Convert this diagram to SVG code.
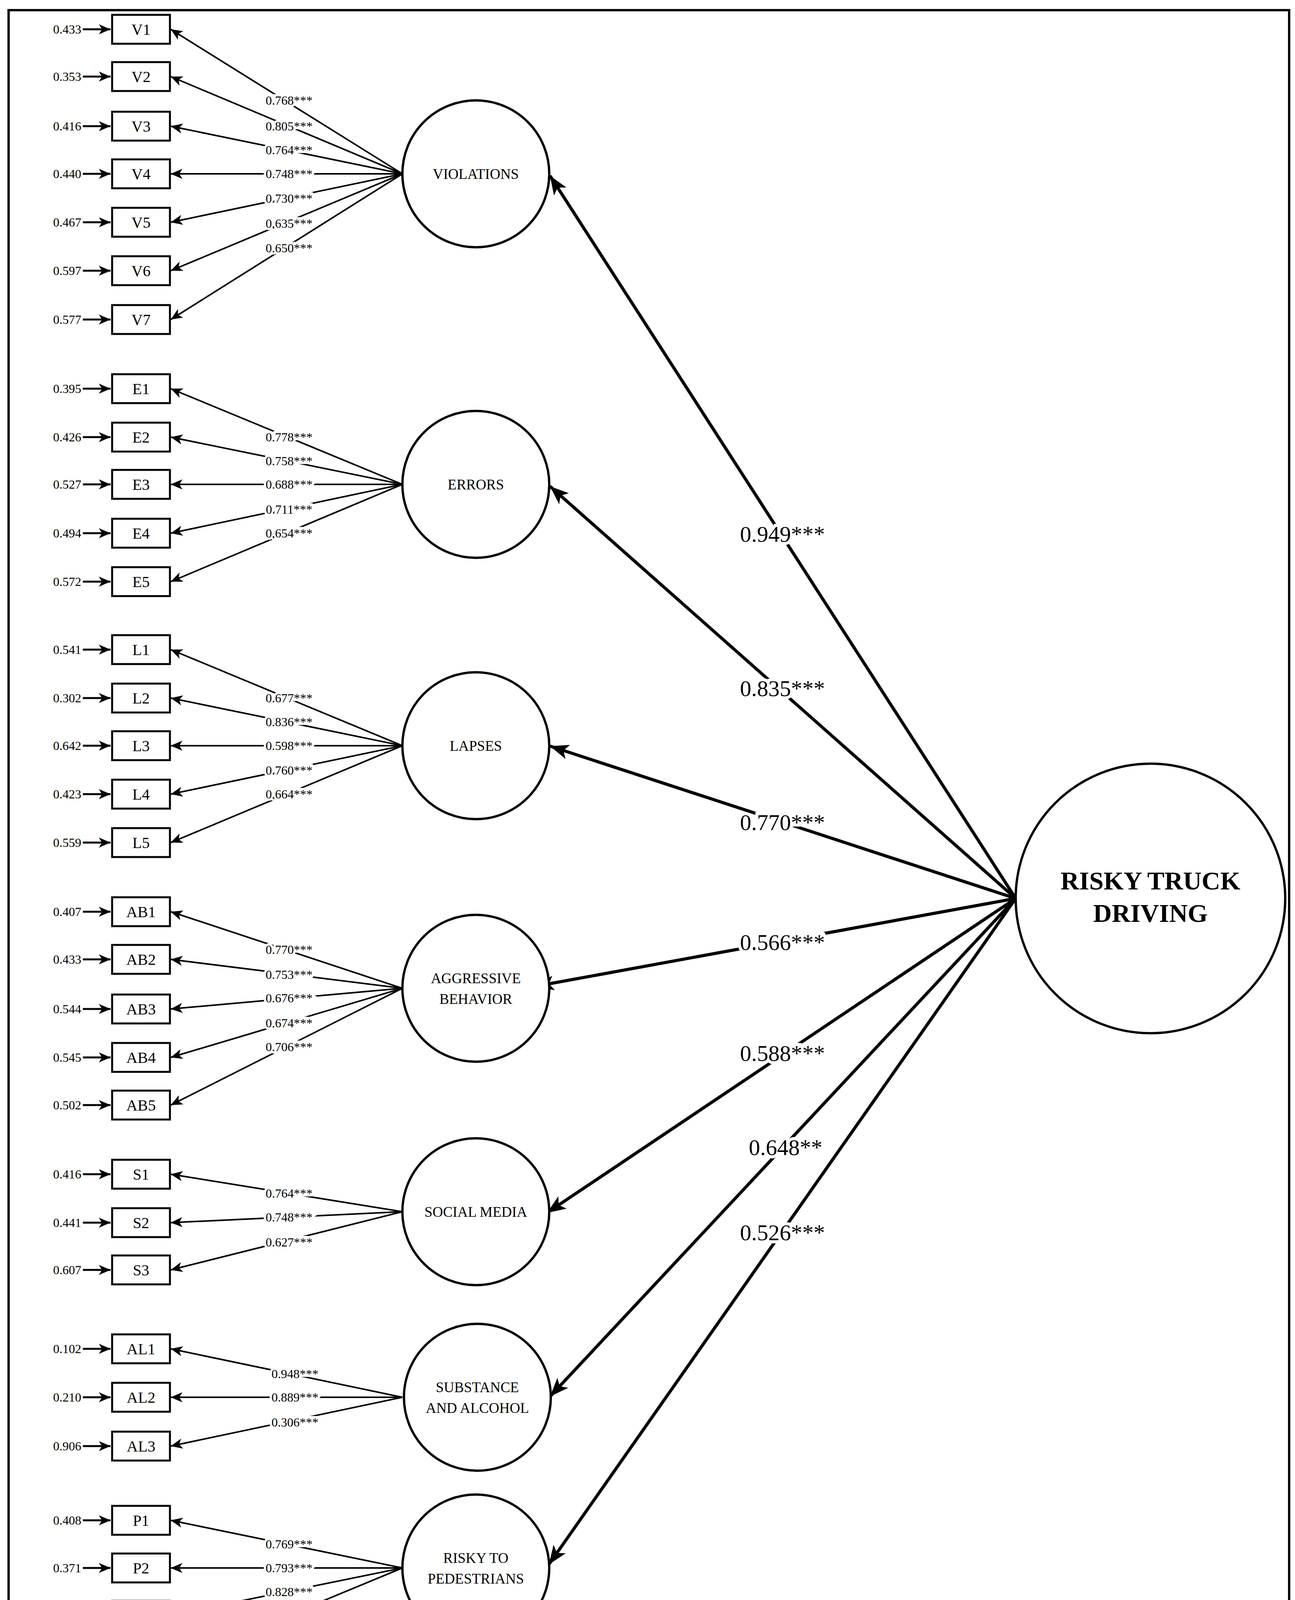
<svg xmlns="http://www.w3.org/2000/svg" width="3315" height="4339" viewBox="0 0 3315 4339">
<defs>
<marker id="a" markerUnits="userSpaceOnUse" markerWidth="32" markerHeight="26" refX="30" refY="13" orient="auto"><path d="M0,0 L30,13 L0,26 L8,13 z" fill="#000"/></marker>
<marker id="b" markerUnits="userSpaceOnUse" markerWidth="50" markerHeight="38" refX="48" refY="19" orient="auto"><path d="M0,0 L48,19 L0,38 L12,19 z" fill="#000"/></marker>
</defs>
<style>
text{font-family:"Liberation Serif","Times New Roman",serif;fill:#000}
.box{fill:#fff;stroke:#000;stroke-width:5}
.lat{fill:#fff;stroke:#000;stroke-width:6}
.ind{stroke:#000;stroke-width:4;marker-end:url(#a)}
.err{stroke:#000;stroke-width:5;marker-end:url(#a)}
.str{stroke:#000;stroke-width:8;marker-end:url(#b)}
.bl{font-size:40px;text-anchor:middle}
.el{font-size:32px;text-anchor:end}
.ll{font-size:32px;text-anchor:middle;stroke:#fff;stroke-width:12;paint-order:stroke}
.sl{font-size:58px;text-anchor:middle;stroke:#fff;stroke-width:16;paint-order:stroke}
.lt{font-size:37px;text-anchor:middle}
.rt{font-size:66px;font-weight:bold;text-anchor:middle}
</style>
<rect x="22" y="26" width="3278" height="4291" fill="#fff" stroke="#000" stroke-width="6"/>
<g id="connectors" fill="none">
<line class="err" x1="212" y1="75" x2="283" y2="75"/><line class="err" x1="212" y1="196" x2="283" y2="196"/><line class="err" x1="212" y1="323" x2="283" y2="323"/><line class="err" x1="212" y1="445" x2="283" y2="445"/><line class="err" x1="212" y1="569" x2="283" y2="569"/><line class="err" x1="212" y1="693" x2="283" y2="693"/><line class="err" x1="212" y1="818" x2="283" y2="818"/>
<line class="err" x1="212" y1="995" x2="283" y2="995"/><line class="err" x1="212" y1="1119" x2="283" y2="1119"/><line class="err" x1="212" y1="1240" x2="283" y2="1240"/><line class="err" x1="212" y1="1365" x2="283" y2="1365"/><line class="err" x1="212" y1="1489" x2="283" y2="1489"/>
<line class="err" x1="212" y1="1663" x2="283" y2="1663"/><line class="err" x1="212" y1="1787" x2="283" y2="1787"/><line class="err" x1="212" y1="1909" x2="283" y2="1909"/><line class="err" x1="212" y1="2033" x2="283" y2="2033"/><line class="err" x1="212" y1="2157" x2="283" y2="2157"/>
<line class="err" x1="212" y1="2334" x2="283" y2="2334"/><line class="err" x1="212" y1="2456" x2="283" y2="2456"/><line class="err" x1="212" y1="2583" x2="283" y2="2583"/><line class="err" x1="212" y1="2707" x2="283" y2="2707"/><line class="err" x1="212" y1="2829" x2="283" y2="2829"/>
<line class="err" x1="212" y1="3006" x2="283" y2="3006"/><line class="err" x1="212" y1="3130" x2="283" y2="3130"/><line class="err" x1="212" y1="3251" x2="283" y2="3251"/>
<line class="err" x1="212" y1="3453" x2="283" y2="3453"/><line class="err" x1="212" y1="3577" x2="283" y2="3577"/><line class="err" x1="212" y1="3702" x2="283" y2="3702"/>
<line class="err" x1="212" y1="3892" x2="283" y2="3892"/><line class="err" x1="212" y1="4014" x2="283" y2="4014"/><line class="err" x1="212" y1="4135" x2="283" y2="4135"/><line class="err" x1="212" y1="4260" x2="283" y2="4260"/>
<line class="ind" x1="1030" y1="445" x2="437" y2="75"/><line class="ind" x1="1030" y1="445" x2="437" y2="196"/><line class="ind" x1="1030" y1="445" x2="437" y2="323"/><line class="ind" x1="1030" y1="445" x2="437" y2="445"/><line class="ind" x1="1030" y1="445" x2="437" y2="569"/><line class="ind" x1="1030" y1="445" x2="437" y2="693"/><line class="ind" x1="1030" y1="445" x2="437" y2="818"/>
<line class="ind" x1="1030" y1="1240" x2="437" y2="995"/><line class="ind" x1="1030" y1="1240" x2="437" y2="1119"/><line class="ind" x1="1030" y1="1240" x2="437" y2="1240"/><line class="ind" x1="1030" y1="1240" x2="437" y2="1365"/><line class="ind" x1="1030" y1="1240" x2="437" y2="1489"/>
<line class="ind" x1="1030" y1="1909" x2="437" y2="1663"/><line class="ind" x1="1030" y1="1909" x2="437" y2="1787"/><line class="ind" x1="1030" y1="1909" x2="437" y2="1909"/><line class="ind" x1="1030" y1="1909" x2="437" y2="2033"/><line class="ind" x1="1030" y1="1909" x2="437" y2="2157"/>
<line class="ind" x1="1030" y1="2530" x2="437" y2="2334"/><line class="ind" x1="1030" y1="2530" x2="437" y2="2456"/><line class="ind" x1="1030" y1="2530" x2="437" y2="2583"/><line class="ind" x1="1030" y1="2530" x2="437" y2="2707"/><line class="ind" x1="1030" y1="2530" x2="437" y2="2829"/>
<line class="ind" x1="1030" y1="3102" x2="437" y2="3006"/><line class="ind" x1="1030" y1="3102" x2="437" y2="3130"/><line class="ind" x1="1030" y1="3102" x2="437" y2="3251"/>
<line class="ind" x1="1030" y1="3577" x2="437" y2="3453"/><line class="ind" x1="1030" y1="3577" x2="437" y2="3577"/><line class="ind" x1="1030" y1="3577" x2="437" y2="3702"/>
<line class="ind" x1="1030" y1="4014" x2="437" y2="3892"/><line class="ind" x1="1030" y1="4014" x2="437" y2="4014"/><line class="ind" x1="1030" y1="4014" x2="437" y2="4135"/><line class="ind" x1="1030" y1="4014" x2="437" y2="4260"/>
<line class="str" x1="2600" y1="2300" x2="1408" y2="450"/>
<line class="str" x1="2600" y1="2300" x2="1408" y2="1245"/>
<line class="str" x1="2600" y1="2300" x2="1408" y2="1910"/>
<line class="str" x1="2600" y1="2300" x2="1370" y2="2525"/>
<line class="str" x1="2600" y1="2300" x2="1400" y2="3105"/>
<line class="str" x1="2600" y1="2300" x2="1408" y2="3575"/>
<line class="str" x1="2600" y1="2300" x2="1405" y2="4005"/>
</g>
<g id="labels">
<text class="ll" x="740" y="268">0.768***</text><text class="ll" x="740" y="334">0.805***</text><text class="ll" x="740" y="395">0.764***</text><text class="ll" x="740" y="456">0.748***</text><text class="ll" x="740" y="519">0.730***</text><text class="ll" x="740" y="583">0.635***</text><text class="ll" x="740" y="646">0.650***</text>
<text class="ll" x="740" y="1130">0.778***</text><text class="ll" x="740" y="1191">0.758***</text><text class="ll" x="740" y="1251">0.688***</text><text class="ll" x="740" y="1315">0.711***</text><text class="ll" x="740" y="1376">0.654***</text>
<text class="ll" x="740" y="1798">0.677***</text><text class="ll" x="740" y="1859">0.836***</text><text class="ll" x="740" y="1920">0.598***</text><text class="ll" x="740" y="1983">0.760***</text><text class="ll" x="740" y="2044">0.664***</text>
<text class="ll" x="740" y="2442">0.770***</text><text class="ll" x="740" y="2506">0.753***</text><text class="ll" x="740" y="2566">0.676***</text><text class="ll" x="740" y="2630">0.674***</text><text class="ll" x="740" y="2691">0.706***</text>
<text class="ll" x="740" y="3066">0.764***</text><text class="ll" x="740" y="3127">0.748***</text><text class="ll" x="740" y="3191">0.627***</text>
<text class="ll" x="755" y="3528">0.948***</text><text class="ll" x="755" y="3588">0.889***</text><text class="ll" x="755" y="3652">0.306***</text>
<text class="ll" x="740" y="3964">0.769***</text><text class="ll" x="740" y="4025">0.793***</text><text class="ll" x="740" y="4086">0.828***</text><text class="ll" x="740" y="4146">0.803***</text>
<text class="sl" x="2003" y="1387">0.949***</text><text class="sl" x="2003" y="1782">0.835***</text><text class="sl" x="2003" y="2125">0.770***</text><text class="sl" x="2003" y="2432">0.566***</text><text class="sl" x="2003" y="2716">0.588***</text><text class="sl" x="2011" y="2957">0.648**</text><text class="sl" x="2003" y="3175">0.526***</text>
<text class="el" x="208" y="86">0.433</text><text class="el" x="208" y="207">0.353</text><text class="el" x="208" y="334">0.416</text><text class="el" x="208" y="456">0.440</text><text class="el" x="208" y="580">0.467</text><text class="el" x="208" y="704">0.597</text><text class="el" x="208" y="829">0.577</text>
<text class="el" x="208" y="1006">0.395</text><text class="el" x="208" y="1130">0.426</text><text class="el" x="208" y="1251">0.527</text><text class="el" x="208" y="1376">0.494</text><text class="el" x="208" y="1500">0.572</text>
<text class="el" x="208" y="1674">0.541</text><text class="el" x="208" y="1798">0.302</text><text class="el" x="208" y="1920">0.642</text><text class="el" x="208" y="2044">0.423</text><text class="el" x="208" y="2168">0.559</text>
<text class="el" x="208" y="2345">0.407</text><text class="el" x="208" y="2467">0.433</text><text class="el" x="208" y="2594">0.544</text><text class="el" x="208" y="2718">0.545</text><text class="el" x="208" y="2840">0.502</text>
<text class="el" x="208" y="3017">0.416</text><text class="el" x="208" y="3141">0.441</text><text class="el" x="208" y="3262">0.607</text>
<text class="el" x="208" y="3464">0.102</text><text class="el" x="208" y="3588">0.210</text><text class="el" x="208" y="3713">0.906</text>
<text class="el" x="208" y="3903">0.408</text><text class="el" x="208" y="4025">0.371</text><text class="el" x="208" y="4146">0.315</text><text class="el" x="208" y="4271">0.355</text>
</g>
<g id="boxes">
<g id="V1"><rect class="box" x="287" y="38" width="148" height="74"/><text class="bl" x="361" y="89">V1</text></g>
<g id="V2"><rect class="box" x="287" y="159" width="148" height="74"/><text class="bl" x="361" y="210">V2</text></g>
<g id="V3"><rect class="box" x="287" y="286" width="148" height="74"/><text class="bl" x="361" y="337">V3</text></g>
<g id="V4"><rect class="box" x="287" y="408" width="148" height="74"/><text class="bl" x="361" y="459">V4</text></g>
<g id="V5"><rect class="box" x="287" y="532" width="148" height="74"/><text class="bl" x="361" y="583">V5</text></g>
<g id="V6"><rect class="box" x="287" y="656" width="148" height="74"/><text class="bl" x="361" y="707">V6</text></g>
<g id="V7"><rect class="box" x="287" y="781" width="148" height="74"/><text class="bl" x="361" y="832">V7</text></g>
<g id="E1"><rect class="box" x="287" y="958" width="148" height="74"/><text class="bl" x="361" y="1009">E1</text></g>
<g id="E2"><rect class="box" x="287" y="1082" width="148" height="74"/><text class="bl" x="361" y="1133">E2</text></g>
<g id="E3"><rect class="box" x="287" y="1203" width="148" height="74"/><text class="bl" x="361" y="1254">E3</text></g>
<g id="E4"><rect class="box" x="287" y="1328" width="148" height="74"/><text class="bl" x="361" y="1379">E4</text></g>
<g id="E5"><rect class="box" x="287" y="1452" width="148" height="74"/><text class="bl" x="361" y="1503">E5</text></g>
<g id="L1"><rect class="box" x="287" y="1626" width="148" height="74"/><text class="bl" x="361" y="1677">L1</text></g>
<g id="L2"><rect class="box" x="287" y="1750" width="148" height="74"/><text class="bl" x="361" y="1801">L2</text></g>
<g id="L3"><rect class="box" x="287" y="1872" width="148" height="74"/><text class="bl" x="361" y="1923">L3</text></g>
<g id="L4"><rect class="box" x="287" y="1996" width="148" height="74"/><text class="bl" x="361" y="2047">L4</text></g>
<g id="L5"><rect class="box" x="287" y="2120" width="148" height="74"/><text class="bl" x="361" y="2171">L5</text></g>
<g id="AB1"><rect class="box" x="287" y="2297" width="148" height="74"/><text class="bl" x="361" y="2348">AB1</text></g>
<g id="AB2"><rect class="box" x="287" y="2419" width="148" height="74"/><text class="bl" x="361" y="2470">AB2</text></g>
<g id="AB3"><rect class="box" x="287" y="2546" width="148" height="74"/><text class="bl" x="361" y="2597">AB3</text></g>
<g id="AB4"><rect class="box" x="287" y="2670" width="148" height="74"/><text class="bl" x="361" y="2721">AB4</text></g>
<g id="AB5"><rect class="box" x="287" y="2792" width="148" height="74"/><text class="bl" x="361" y="2843">AB5</text></g>
<g id="S1"><rect class="box" x="287" y="2969" width="148" height="74"/><text class="bl" x="361" y="3020">S1</text></g>
<g id="S2"><rect class="box" x="287" y="3093" width="148" height="74"/><text class="bl" x="361" y="3144">S2</text></g>
<g id="S3"><rect class="box" x="287" y="3214" width="148" height="74"/><text class="bl" x="361" y="3265">S3</text></g>
<g id="AL1"><rect class="box" x="287" y="3416" width="148" height="74"/><text class="bl" x="361" y="3467">AL1</text></g>
<g id="AL2"><rect class="box" x="287" y="3540" width="148" height="74"/><text class="bl" x="361" y="3591">AL2</text></g>
<g id="AL3"><rect class="box" x="287" y="3665" width="148" height="74"/><text class="bl" x="361" y="3716">AL3</text></g>
<g id="P1"><rect class="box" x="287" y="3855" width="148" height="74"/><text class="bl" x="361" y="3906">P1</text></g>
<g id="P2"><rect class="box" x="287" y="3977" width="148" height="74"/><text class="bl" x="361" y="4028">P2</text></g>
<g id="P3"><rect class="box" x="287" y="4098" width="148" height="74"/><text class="bl" x="361" y="4149">P3</text></g>
<g id="P4"><rect class="box" x="287" y="4223" width="148" height="74"/><text class="bl" x="361" y="4274">P4</text></g>
</g>
<g id="latents">
<g id="violations"><circle class="lat" cx="1218" cy="445" r="188"/><text class="lt" x="1218" y="458">VIOLATIONS</text></g>
<g id="errors"><circle class="lat" cx="1218" cy="1240" r="188"/><text class="lt" x="1218" y="1253">ERRORS</text></g>
<g id="lapses"><circle class="lat" cx="1218" cy="1909" r="188"/><text class="lt" x="1218" y="1922">LAPSES</text></g>
<g id="aggressive"><circle class="lat" cx="1218" cy="2530" r="188"/><text class="lt" x="1218" y="2517">AGGRESSIVE</text><text class="lt" x="1218" y="2570">BEHAVIOR</text></g>
<g id="social"><circle class="lat" cx="1218" cy="3102" r="188"/><text class="lt" x="1218" y="3115">SOCIAL MEDIA</text></g>
<g id="substance"><circle class="lat" cx="1222" cy="3577" r="188"/><text class="lt" x="1222" y="3564">SUBSTANCE</text><text class="lt" x="1222" y="3617">AND ALCOHOL</text></g>
<g id="pedestrians"><circle class="lat" cx="1218" cy="4014" r="188"/><text class="lt" x="1218" y="4001">RISKY TO</text><text class="lt" x="1218" y="4054">PEDESTRIANS</text></g>
<g id="rtd"><circle class="lat" cx="2945" cy="2300" r="345"/><text class="rt" x="2945" y="2277">RISKY TRUCK</text><text class="rt" x="2945" y="2360">DRIVING</text></g>
</g>
</svg>
